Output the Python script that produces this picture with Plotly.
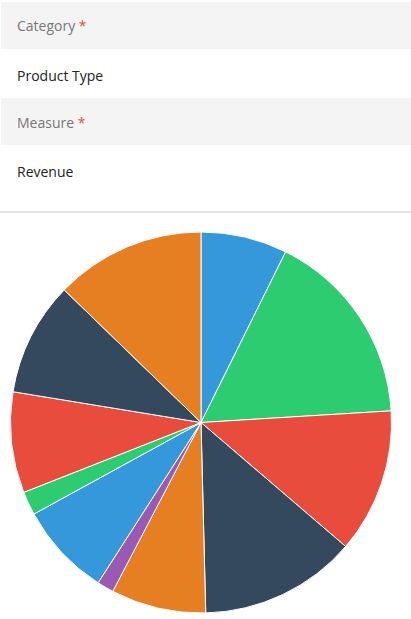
import plotly.graph_objects as go

W, H = 411, 619

# Data
categories = ["Type 1", "Type 2", "Type 3", "Type 4", "Type 5", "Type 6",
              "Type 7", "Type 8", "Type 9", "Type 10", "Type 11"]
revenue = [7.33, 16.7, 12.25, 13.33, 8.06, 1.42, 7.94, 2.0, 8.56, 9.67, 12.75]
palette = ["#3498db", "#2ecc71", "#e74c3c", "#34495e", "#e67e22", "#9b59b6"]
slice_colors = [palette[i % len(palette)] for i in range(len(categories))]

form_labels = ["Category", "Measure"]
form_values = ["Product Type", "Revenue"]


def px(x):
    return x / W


def py(y):
    return 1 - y / H


fig = go.Figure()

cx, cy, r = 201, 422.5, 190.5
fig.add_trace(go.Pie(
    labels=categories,
    values=revenue,
    sort=False,
    direction="clockwise",
    rotation=0,
    textinfo="none",
    showlegend=False,
    marker=dict(colors=slice_colors, line=dict(color="#ffffff", width=1)),
    domain=dict(x=[px(cx - r), px(cx + r)], y=[py(cy + r), py(cy - r)]),
    hoverinfo="label+value+percent",
))

shapes = []
annotations = []
row_tops = [2, 98]
for i, (lab, val) in enumerate(zip(form_labels, form_values)):
    top = row_tops[i]
    shapes.append(dict(type="rect", xref="paper", yref="paper",
                       x0=px(1), x1=px(411), y0=py(top + 47), y1=py(top),
                       fillcolor="#f4f4f4", line=dict(width=0), layer="below"))
    annotations.append(dict(
        xref="paper", yref="paper", x=px(15), y=py(top + 24),
        xanchor="left", yanchor="middle", showarrow=False,
        text=f"{lab} <span style='color:#e74c3c'>*</span>",
        font=dict(family="Open Sans", size=14, color="#777777")))
    annotations.append(dict(
        xref="paper", yref="paper", x=px(15), y=py(top + 73),
        xanchor="left", yanchor="middle", showarrow=False,
        text=val,
        font=dict(family="Open Sans", size=14, color="#222222")))

shapes.append(dict(type="line", xref="paper", yref="paper",
                   x0=0, x1=1, y0=py(212), y1=py(212),
                   line=dict(color="#c4c4c4", width=1)))

fig.update_layout(
    width=W, height=H,
    margin=dict(l=0, r=0, t=0, b=0),
    paper_bgcolor="#ffffff",
    plot_bgcolor="#ffffff",
    shapes=shapes,
    annotations=annotations,
    font=dict(family="Open Sans"),
)

fig.write_html("out.html", config={"displayModeBar": False})
